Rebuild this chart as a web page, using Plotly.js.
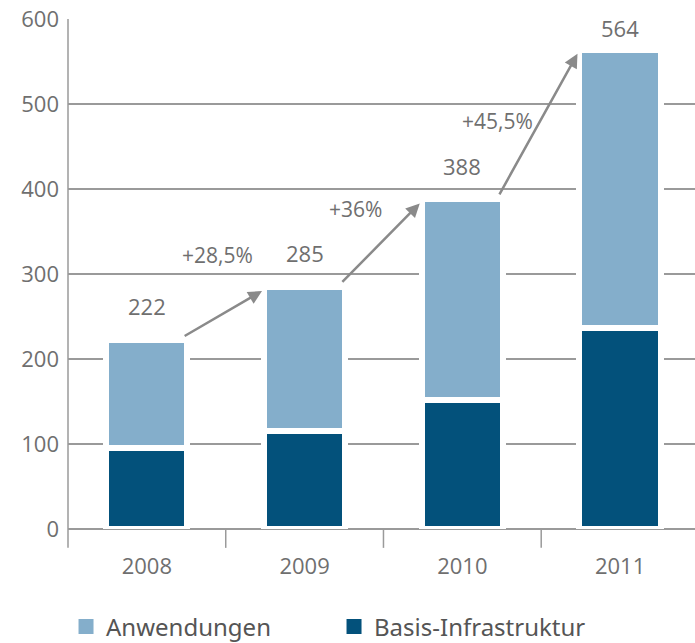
<!DOCTYPE html>
<html>
<head>
<meta charset="utf-8">
<script src="https://cdn.plot.ly/plotly-3.0.1.min.js"></script>
<style>html,body{margin:0;padding:0;background:#fff;}#chart{width:695px;height:643px;}</style>
</head>
<body>
<div id="chart"></div>
<script>
// ---- data ----
const years = ["2008", "2009", "2010", "2011"];
const basisInfrastruktur = [95, 115, 152, 236];
const anwendungen = [127, 170, 236, 328];
const totals = [222, 285, 388, 564];
const growthLabels = ["+28,5%", "+36%", "+45,5%"];
const growthPos = [[0.45, 322], [1.32, 377], [2.22, 480]];
const yTicks = [0, 100, 200, 300, 400, 500, 600];

// ---- style ----
const grey = "#6f6f6f";
const lightBlue = "#84aecb";
const darkBlue = "#03517b";
const totalShift = [31, 31, 30, 19];

const traces = [
  {
    type: "bar", name: "Basis-Infrastruktur", x: [0,1,2,3], y: basisInfrastruktur,
    marker: {color: darkBlue, line: {color: "#ffffff", width: 6}},
    width: 0.515, hoverinfo: "none", showlegend: false
  },
  {
    type: "bar", name: "Anwendungen", x: [0,1,2,3], y: anwendungen,
    marker: {color: lightBlue, line: {color: "#ffffff", width: 6}},
    width: 0.515, hoverinfo: "none", showlegend: false
  },
  // legend entries with larger square symbols
  {
    type: "scatter", mode: "markers", name: "Anwendungen", x: [null], y: [null],
    marker: {symbol: "square", size: 15, color: lightBlue}, hoverinfo: "none"
  },
  {
    type: "scatter", mode: "markers", name: "Basis-Infrastruktur", x: [null], y: [null],
    marker: {symbol: "square", size: 15, color: darkBlue}, hoverinfo: "none"
  }
];

const annotations = [];
totals.forEach((t, i) => {
  annotations.push({
    x: i, y: t, xref: "x", yref: "y", text: String(t), showarrow: false,
    yanchor: "middle", yshift: totalShift[i] + 3,
    font: {family: "Open Sans, sans-serif", size: 22, color: grey}
  });
});
growthLabels.forEach((g, i) => {
  annotations.push({
    x: growthPos[i][0], y: growthPos[i][1], xref: "x", yref: "y", text: g, showarrow: false,
    font: {family: "Open Sans, sans-serif", size: 21, color: grey}
  });
  annotations.push({
    x: i + 1 - 0.27, y: totals[i + 1] - 5, xref: "x", yref: "y",
    ax: i + 0.23, ay: totals[i] + 4, axref: "x", ayref: "y",
    text: "", showarrow: true, arrowhead: 2, arrowsize: 1.1, arrowwidth: 2.5,
    arrowcolor: "#8a8a8a", standoff: 0, startstandoff: 0
  });
});

const layout = {
  width: 695, height: 643,
  margin: {l: 68, r: 0, t: 19, b: 113.5},
  paper_bgcolor: "#fff", plot_bgcolor: "#fff",
  barmode: "stack",
  showlegend: true,
  legend: {
    orientation: "h", traceorder: "normal",
    xref: "container", yref: "container",
    x: 0.095, y: 0.025, xanchor: "left", yanchor: "middle",
    entrywidth: 223, entrywidthmode: "pixels",
    font: {family: "Noto Sans, sans-serif", size: 24, color: "#555"}
  },
  xaxis: {
    type: "linear", range: [-0.5, 3.475],
    tickvals: [0,1,2,3], ticktext: years, ticks: "",
    showgrid: false, zeroline: false, showline: false,
    ticklabelstandoff: 22,
    tickfont: {family: "Open Sans, sans-serif", size: 22, color: grey},
    fixedrange: true
  },
  yaxis: {
    range: [0, 600], tickvals: yTicks, ticktext: yTicks.map(String),
    showgrid: true, gridcolor: "#9a9a9a", gridwidth: 1.5,
    zeroline: true, zerolinecolor: "#9a9a9a", zerolinewidth: 1.5,
    showline: false, ticks: "",
    ticklabelstandoff: 8,
    tickfont: {family: "Open Sans, sans-serif", size: 22, color: grey},
    fixedrange: true
  },
  shapes: [
    // y axis line extending below zero
    {type: "line", xref: "paper", yref: "paper", x0: 0, x1: 0, y0: -0.037, y1: 1,
     line: {color: "#9a9a9a", width: 1.5}, layer: "below"},
    // category boundary ticks below the axis
    ...[0.5, 1.5, 2.5].map(b => ({type: "line", xref: "x", yref: "paper", x0: b, x1: b, y0: -0.037, y1: 0,
      line: {color: "#9a9a9a", width: 1.5}, layer: "below"}))
  ],
  annotations: annotations
};

Plotly.newPlot("chart", traces, layout, {displayModeBar: false, staticPlot: true});
</script>
</body>
</html>
